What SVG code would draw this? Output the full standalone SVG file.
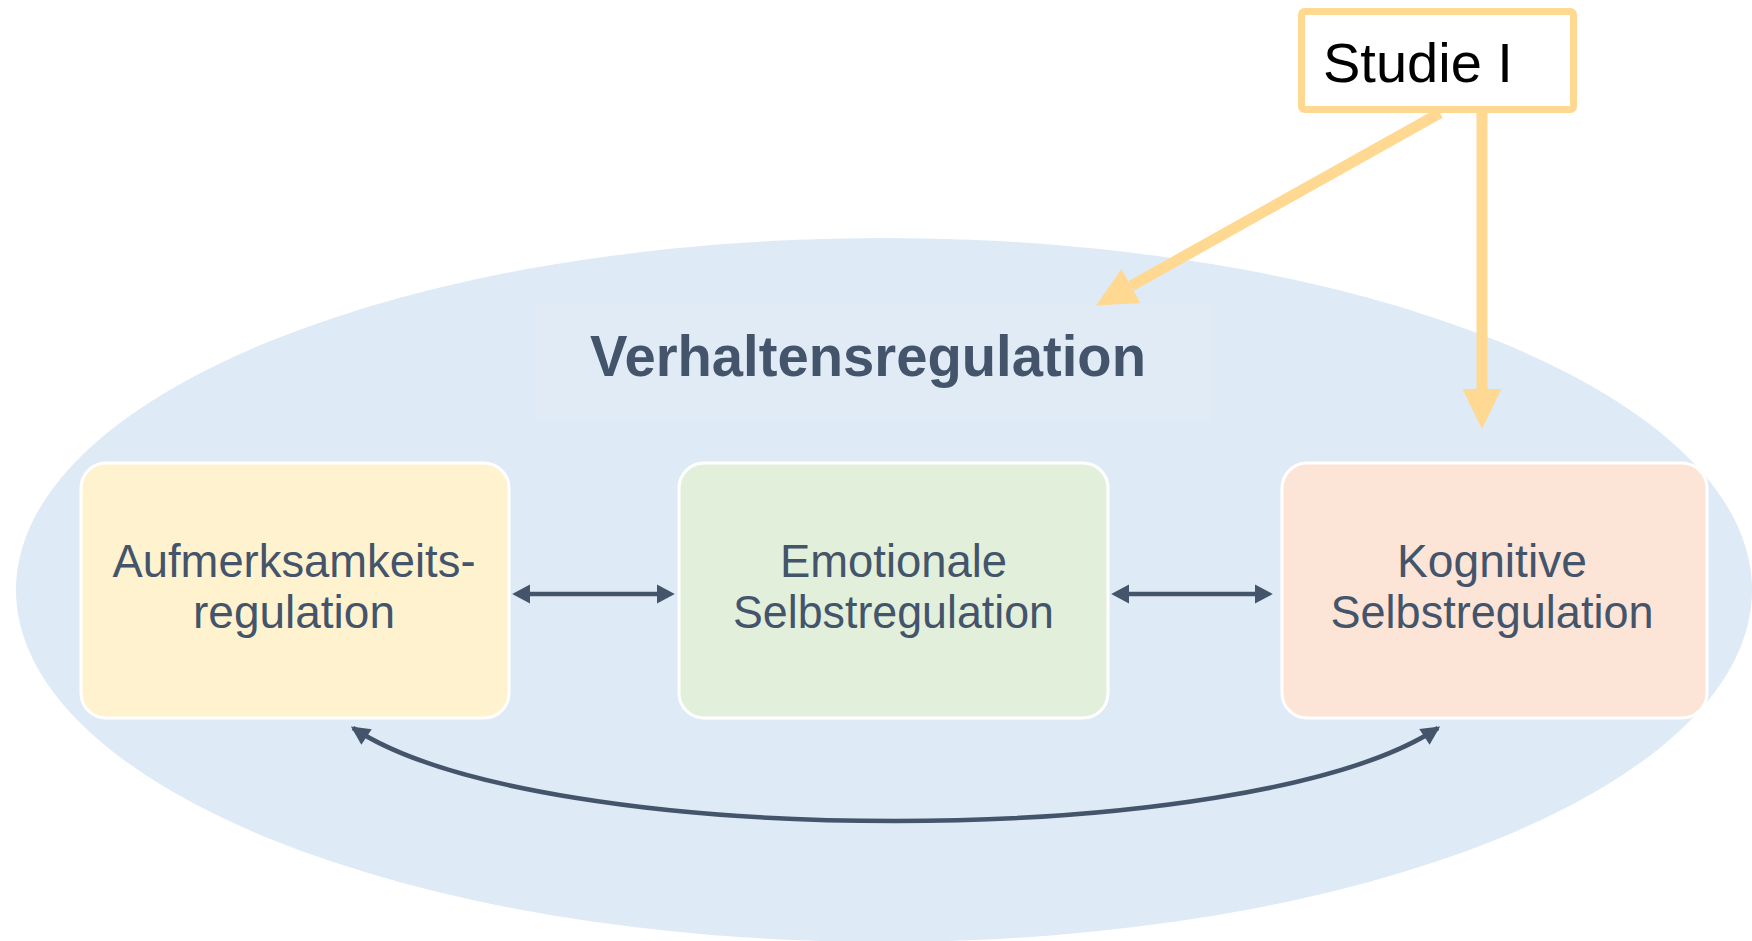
<svg xmlns="http://www.w3.org/2000/svg" width="1752" height="941" viewBox="0 0 1752 941">
<style>
.box{stroke:#ffffff;stroke-width:3}
.lbl{font-family:"Liberation Sans",Arial,sans-serif;font-size:47px;fill:#44546a;text-anchor:middle}
.title{font-family:"Liberation Sans",Arial,sans-serif;font-size:58px;font-weight:bold;fill:#44546a}
.dark{fill:none;stroke:#44546a;stroke-width:4.5}
.gold{fill:none;stroke:#ffd892;stroke-width:11}
</style>
<defs>
<marker id="gh" markerUnits="userSpaceOnUse" markerWidth="40" markerHeight="40" viewBox="0 -18 36 36" refX="0" refY="0" orient="auto">
<path d="M0,-17.5 L36,0 L0,17.5 z" fill="#ffd892"/>
</marker>
<marker id="dh" markerUnits="userSpaceOnUse" markerWidth="20" markerHeight="20" viewBox="0 -9 16 18" refX="0" refY="0" orient="auto-start-reverse">
<path d="M0,-8.5 L16,0 L0,8.5 z" fill="#44546a"/>
</marker>
<marker id="ch" markerUnits="userSpaceOnUse" markerWidth="20" markerHeight="20" viewBox="0 -8 15 16" refX="13" refY="0" orient="auto-start-reverse">
<path d="M0,-7.5 L15,0 L0,7.5 z" fill="#44546a"/>
</marker>
</defs>
<rect width="1752" height="941" fill="#ffffff"/>
<g id="background">
<ellipse cx="884" cy="590" rx="868" ry="352" fill="#deeaf6"/>
</g>
<g id="title">
<rect x="536" y="304" width="676" height="118" fill="#e0ebf6"/>
<text class="title" x="590" y="376" textLength="556" lengthAdjust="spacingAndGlyphs">Verhaltensregulation</text>
</g>
<g id="node-aufmerksamkeit">
<rect class="box" x="81" y="463" width="428" height="255" rx="25" fill="#fff2cf"/>
<text class="lbl" x="294" y="577" textLength="363" lengthAdjust="spacingAndGlyphs">Aufmerksamkeits-</text>
<text class="lbl" x="294" y="628" textLength="202" lengthAdjust="spacingAndGlyphs">regulation</text>
</g>
<g id="node-emotionale">
<rect class="box" x="679" y="463" width="429" height="255" rx="25" fill="#e2efda"/>
<text class="lbl" x="893.5" y="577" textLength="227" lengthAdjust="spacingAndGlyphs">Emotionale</text>
<text class="lbl" x="893.5" y="628" textLength="321" lengthAdjust="spacingAndGlyphs">Selbstregulation</text>
</g>
<g id="node-kognitive">
<rect class="box" x="1282" y="463" width="425" height="255" rx="25" fill="#fce4d6"/>
<text class="lbl" x="1492" y="577" textLength="190" lengthAdjust="spacingAndGlyphs">Kognitive</text>
<text class="lbl" x="1492" y="628" textLength="323" lengthAdjust="spacingAndGlyphs">Selbstregulation</text>
</g>
<g id="connectors">
<path class="dark" d="M530,594 L657,594" marker-start="url(#dh)" marker-end="url(#dh)"/>
<path class="dark" d="M1129,594 L1255,594" marker-start="url(#dh)" marker-end="url(#dh)"/>
<path class="dark" d="M353,728 C540,852 1250,852 1438,728" marker-start="url(#ch)" marker-end="url(#ch)"/>
<path class="gold" d="M1440,113 L1131,286" marker-end="url(#gh)"/>
<path class="gold" d="M1482,113 L1482,389" marker-end="url(#gh)"/>
</g>
<g id="node-studie">
<rect x="1301.5" y="11.5" width="272" height="98" rx="3" fill="#ffffff" stroke="#ffd892" stroke-width="7"/>
<text x="1323" y="82" font-family="'Liberation Sans',Arial,sans-serif" font-size="56" fill="#000000">Studie I</text>
</g>
</svg>
